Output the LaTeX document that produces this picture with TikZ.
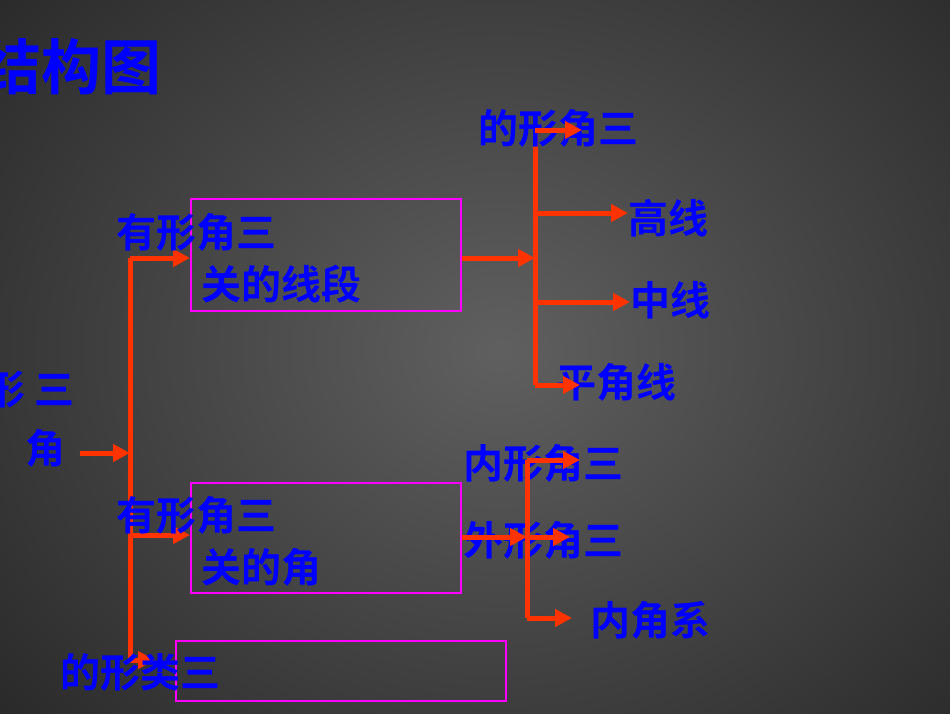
\documentclass[tikz,border=0pt]{standalone}
\usepackage{fontspec}
\setmainfont{Noto Sans CJK SC}[BoldFont={* Bold}]
\usetikzlibrary{arrows.meta}
\definecolor{txt}{HTML}{0000FF}
\definecolor{arr}{HTML}{FF3300}
\definecolor{box}{HTML}{FF00FF}
\begin{document}
\begin{tikzpicture}[x=1pt,y=-1pt,
  lbl/.style={text=txt,font=\fontsize{40}{44}\selectfont\bfseries,inner sep=0,anchor=west},
  ln/.style={draw=arr,line width=5pt},
  ar/.style={ln,-{Triangle[length=17pt,width=17pt]}},
  bx/.style={draw=box,line width=2pt}]
\useasboundingbox (0,0) rectangle (950,713);
\shade[inner color=gray!75!black,outer color=black!85] (-200,-250) rectangle (1200,950);
\node[lbl,anchor=east,font=\fontsize{60}{62}\selectfont\bfseries] (title) at (162,67) {结构图};
\node[lbl,anchor=east] (root1) at (75,390) {形 三};
\node[lbl] (root2) at (25,448) {角};
\coordinate (r) at (80,453);
\coordinate (j) at (130,453);
\coordinate (vt) at (130,258);
\coordinate (vm) at (130,535);
\coordinate (vb) at (130,660);
\draw[ar] (r) -- (j);
\draw[ln] (vt) -- (vb);
% boxes
\node[bx,minimum width=270,minimum height=112,anchor=north west] (b1) at (190,198) {};
\node[bx,minimum width=270,minimum height=110,anchor=north west] (b2) at (190,482) {};
\node[bx,minimum width=330,minimum height=60,anchor=north west] (b3) at (175,640) {};
\draw[ar] (vt) -- (vt -| b1.west);
\draw[ar] (vm) -- (vm -| b2.west);
\draw[ar] (vb) -- ++(25,0);
\node[lbl] (t1a) at (116,232) {有形角三};
\node[lbl] (t1b) at (201,284) {关的线段};
\node[lbl] (t2a) at (116,515) {有形角三};
\node[lbl] (t2b) at (201,567) {关的角};
\node[lbl] (t3) at (60,672) {的形类三};
% right upper
\coordinate (u) at (535,258);
\coordinate (u1) at (535,130);
\coordinate (u2) at (535,213);
\coordinate (u3) at (535,302);
\coordinate (u4) at (535,385);
\draw[ar] (b1.east |- u) -- (u);
\draw[ln] (u1) -- (u4);
\node[lbl] (a1) at (478,128) {的形角三};
\node[lbl] (a2) at (628,218) {高线};
\node[lbl] (a3) at (630,300) {中线};
\node[lbl] (a4) at (556,382) {平角线};
\draw[ar] (u1) -- ++(47,0);
\draw[ar] (u2) -- (u2 -| a2.west);
\draw[ar] (u3) -- (u3 -| a3.west);
\draw[ar] (u4) -- ++(45,0);
% right lower
\coordinate (w) at (527,537);
\coordinate (w1) at (527,460);
\coordinate (w3) at (527,618);
\node[lbl] (c1) at (463,463) {内形角三};
\node[lbl] (c2) at (463,540) {外形角三};
\node[lbl] (c3) at (590,620) {内角系};
\draw[ar] (b2.east |- w) -- (w);
\draw[ln] (w1) -- (w3);
\draw[ar] (w1) -- ++(53,0);
\draw[ar] (w) -- ++(43,0);
\draw[ar] (w3) -- ++(45,0);
\end{tikzpicture}
\end{document}
